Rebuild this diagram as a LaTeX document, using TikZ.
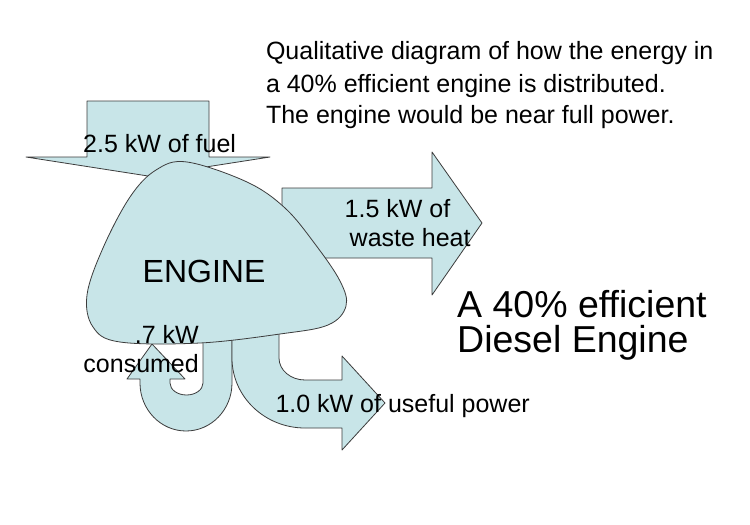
\documentclass[tikz,border=0pt]{standalone}
\usepackage{fontspec}
\setmainfont{Liberation Sans}
\definecolor{flow}{RGB}{200,229,232}
\definecolor{edge}{RGB}{60,60,60}
\begin{document}
\begin{tikzpicture}[x=1pt,y=-1pt,
  flowshape/.style={fill=flow,draw=edge,line width=0.8pt,line join=round},
  lbl/.style={inner sep=0pt,font=\fontsize{25}{30}\selectfont,anchor=base west},
  lble/.style={lbl,anchor=base east},
  eng/.style={inner sep=0pt,font=\fontsize{32}{38}\selectfont,anchor=base west},
  big/.style={inner sep=0pt,font=\fontsize{37.5}{40}\selectfont,anchor=base west}]
\useasboundingbox (0,0) rectangle (750,525);
\fill[white] (0,0) rectangle (750,525);
% fuel arrow
\draw[flowshape] (87,101) -- (209,101) -- (209,157) -- (270,157) -- (148,176) -- (26,157) -- (87,157) -- cycle;
% waste heat arrow
\draw[flowshape] (282,188) -- (432,188) -- (432,152) -- (482,223) -- (432,295) -- (432,258) -- (282,258) -- cycle;
% consumed loop
\draw[flowshape] (203,325) -- (203,383) arc[start angle=0,end angle=180,x radius=16.5,y radius=12]
  -- (170,379) -- (185,379) -- (152,344) -- (127,379) -- (140,379) -- (140,383)
  arc[start angle=180,end angle=0,x radius=46,y radius=48] -- (232,325) -- cycle;
% useful power arrow
\draw[flowshape] (232,325) -- (232,358) arc[start angle=180,end angle=90,x radius=73,y radius=70]
  -- (342,428) -- (342,450) -- (385,403) -- (342,356) -- (342,380) -- (305,380)
  arc[start angle=90,end angle=180,x radius=26,y radius=22] -- (279,325) -- cycle;
% engine
\draw[flowshape] plot[smooth cycle, tension=0.6] coordinates {(187,162) (247,182) (285,208) (315,244) (340,281) (346,306) (328,325) (280,334) (200,343) (120,342) (93,327) (87,295) (103,248) (130,197) (156,170)};
% texts
\node[lbl] (t1) at (265.8,59) {Qualitative diagram of how the energy in};
\node[lbl] (t2) at (265.8,92) {a 40\% efficient engine is distributed.};
\node[lbl] (t3) at (265.8,123) {The engine would be near full power.};
\node[lbl] (fuel) at (83,152) {2.5 kW of fuel};
\node[lbl] (waste1) at (344.5,217) {1.5 kW of};
\node[lbl] (waste2) at (349.5,246) {waste heat};
\node[eng] (engine) at (142.5,282) {ENGINE};
\node[lble] (cons1) at (199,343) {.7 kW};
\node[lble] (cons2) at (199,372) {consumed};
\node[lbl] (useful) at (275.3,412) {1.0 kW of useful power};
\node[big] (b1) at (457,317) {A 40\% efficient};
\node[big] (b2) at (457,352) {Diesel Engine};
\end{tikzpicture}
\end{document}
